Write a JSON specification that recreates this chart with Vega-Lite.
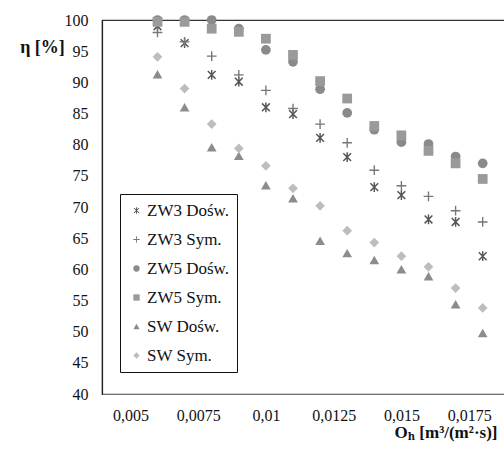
{
  "$schema": "https://vega.github.io/schema/vega-lite/v6.json",
  "autosize": "none",
  "padding": {"left": 102, "top": 20, "right": 0, "bottom": 62},
  "width": 403,
  "height": 374,
  "background": "white",
  "config": {
    "view": {"stroke": "#333", "strokeWidth": 1.2},
    "font": "Tinos, 'Times New Roman', Times, 'Noto Serif', FreeSerif, 'Liberation Serif', serif"
  },
  "data": {
    "values": [
      {"s": "ZW3 Dośw.", "q": 0.006, "eta": 99.0},
      {"s": "ZW3 Dośw.", "q": 0.007, "eta": 96.3},
      {"s": "ZW3 Dośw.", "q": 0.008, "eta": 91.2},
      {"s": "ZW3 Dośw.", "q": 0.009, "eta": 90.1},
      {"s": "ZW3 Dośw.", "q": 0.010, "eta": 86.0},
      {"s": "ZW3 Dośw.", "q": 0.011, "eta": 84.9},
      {"s": "ZW3 Dośw.", "q": 0.012, "eta": 81.1},
      {"s": "ZW3 Dośw.", "q": 0.013, "eta": 78.0},
      {"s": "ZW3 Dośw.", "q": 0.014, "eta": 73.2},
      {"s": "ZW3 Dośw.", "q": 0.015, "eta": 71.9},
      {"s": "ZW3 Dośw.", "q": 0.016, "eta": 68.0},
      {"s": "ZW3 Dośw.", "q": 0.017, "eta": 67.6},
      {"s": "ZW3 Dośw.", "q": 0.018, "eta": 62.1},
      {"s": "ZW3 Sym.", "q": 0.006, "eta": 98.0},
      {"s": "ZW3 Sym.", "q": 0.007, "eta": 96.5},
      {"s": "ZW3 Sym.", "q": 0.008, "eta": 94.2},
      {"s": "ZW3 Sym.", "q": 0.009, "eta": 91.2},
      {"s": "ZW3 Sym.", "q": 0.010, "eta": 88.7},
      {"s": "ZW3 Sym.", "q": 0.011, "eta": 85.8},
      {"s": "ZW3 Sym.", "q": 0.012, "eta": 83.3},
      {"s": "ZW3 Sym.", "q": 0.013, "eta": 80.3},
      {"s": "ZW3 Sym.", "q": 0.014, "eta": 75.9},
      {"s": "ZW3 Sym.", "q": 0.015, "eta": 73.4},
      {"s": "ZW3 Sym.", "q": 0.016, "eta": 71.7},
      {"s": "ZW3 Sym.", "q": 0.017, "eta": 69.4},
      {"s": "ZW3 Sym.", "q": 0.018, "eta": 67.6},
      {"s": "ZW5 Dośw.", "q": 0.006, "eta": 100.0},
      {"s": "ZW5 Dośw.", "q": 0.007, "eta": 100.0},
      {"s": "ZW5 Dośw.", "q": 0.008, "eta": 100.0},
      {"s": "ZW5 Dośw.", "q": 0.009, "eta": 98.6},
      {"s": "ZW5 Dośw.", "q": 0.010, "eta": 95.2},
      {"s": "ZW5 Dośw.", "q": 0.011, "eta": 93.3},
      {"s": "ZW5 Dośw.", "q": 0.012, "eta": 88.9},
      {"s": "ZW5 Dośw.", "q": 0.013, "eta": 85.1},
      {"s": "ZW5 Dośw.", "q": 0.014, "eta": 82.4},
      {"s": "ZW5 Dośw.", "q": 0.015, "eta": 80.4},
      {"s": "ZW5 Dośw.", "q": 0.016, "eta": 80.1},
      {"s": "ZW5 Dośw.", "q": 0.017, "eta": 78.1},
      {"s": "ZW5 Dośw.", "q": 0.018, "eta": 77.0},
      {"s": "ZW5 Sym.", "q": 0.006, "eta": 99.7},
      {"s": "ZW5 Sym.", "q": 0.007, "eta": 99.7},
      {"s": "ZW5 Sym.", "q": 0.008, "eta": 98.6},
      {"s": "ZW5 Sym.", "q": 0.009, "eta": 98.1},
      {"s": "ZW5 Sym.", "q": 0.010, "eta": 97.0},
      {"s": "ZW5 Sym.", "q": 0.011, "eta": 94.4},
      {"s": "ZW5 Sym.", "q": 0.012, "eta": 90.2},
      {"s": "ZW5 Sym.", "q": 0.013, "eta": 87.4},
      {"s": "ZW5 Sym.", "q": 0.014, "eta": 83.0},
      {"s": "ZW5 Sym.", "q": 0.015, "eta": 81.5},
      {"s": "ZW5 Sym.", "q": 0.016, "eta": 79.0},
      {"s": "ZW5 Sym.", "q": 0.017, "eta": 77.0},
      {"s": "ZW5 Sym.", "q": 0.018, "eta": 74.5},
      {"s": "SW Dośw.", "q": 0.006, "eta": 91.3},
      {"s": "SW Dośw.", "q": 0.007, "eta": 86.0},
      {"s": "SW Dośw.", "q": 0.008, "eta": 79.6},
      {"s": "SW Dośw.", "q": 0.009, "eta": 78.2},
      {"s": "SW Dośw.", "q": 0.010, "eta": 73.5},
      {"s": "SW Dośw.", "q": 0.011, "eta": 71.4},
      {"s": "SW Dośw.", "q": 0.012, "eta": 64.6},
      {"s": "SW Dośw.", "q": 0.013, "eta": 62.6},
      {"s": "SW Dośw.", "q": 0.014, "eta": 61.5},
      {"s": "SW Dośw.", "q": 0.015, "eta": 60.0},
      {"s": "SW Dośw.", "q": 0.016, "eta": 58.9},
      {"s": "SW Dośw.", "q": 0.017, "eta": 54.4},
      {"s": "SW Dośw.", "q": 0.018, "eta": 49.8},
      {"s": "SW Sym.", "q": 0.006, "eta": 94.1},
      {"s": "SW Sym.", "q": 0.007, "eta": 89.0},
      {"s": "SW Sym.", "q": 0.008, "eta": 83.3},
      {"s": "SW Sym.", "q": 0.009, "eta": 79.4},
      {"s": "SW Sym.", "q": 0.010, "eta": 76.6},
      {"s": "SW Sym.", "q": 0.011, "eta": 73.0},
      {"s": "SW Sym.", "q": 0.012, "eta": 70.2},
      {"s": "SW Sym.", "q": 0.013, "eta": 66.2},
      {"s": "SW Sym.", "q": 0.014, "eta": 64.3},
      {"s": "SW Sym.", "q": 0.015, "eta": 62.1},
      {"s": "SW Sym.", "q": 0.016, "eta": 60.4},
      {"s": "SW Sym.", "q": 0.017, "eta": 57.0},
      {"s": "SW Sym.", "q": 0.018, "eta": 53.8}
    ]
  },
  "mark": {"type": "point", "filled": true, "opacity": 1, "size": 95, "strokeWidth": 0, "clip": false},
  "encoding": {
    "x": {
      "field": "q", "type": "quantitative",
      "scale": {"domain": [0.003952, 0.018823], "nice": false, "zero": false},
      "axis": {
        "values": [0.005, 0.0075, 0.01, 0.0125, 0.015, 0.0175],
        "labelExpr": "replace(format(datum.value, '.4~f'), '.', ',')",
        "labelFontSize": 16, "labelColor": "#111",
        "labelPadding": 13, "ticks": false, "grid": false,
        "domainColor": "#777", "domainWidth": 1.2,
        "title": "Oₕ [m³/(m²·s)]",
        "titleFontSize": 17, "titleFontWeight": "bold", "titleColor": "#111",
        "titleAlign": "right", "titleAnchor": "end", "titleX": 395, "titleY": 43, "titleBaseline": "alphabetic"
      }
    },
    "y": {
      "field": "eta", "type": "quantitative",
      "scale": {"domain": [40, 100], "nice": false, "zero": false},
      "axis": {
        "values": [40, 45, 50, 55, 60, 65, 70, 75, 80, 85, 90, 95, 100],
        "labelFontSize": 16, "labelColor": "#111",
        "labelPadding": 14, "ticks": false, "grid": false,
        "domainColor": "#222", "domainWidth": 1.2,
        "title": "η [%]",
        "titleFontSize": 18, "titleFontWeight": "bold", "titleColor": "#111",
        "titleAngle": 0, "titleAlign": "center", "titleBaseline": "middle", "titleX": -60, "titleY": 27
      }
    },
    "shape": {
      "field": "s", "type": "nominal",
      "scale": {
        "domain": ["ZW3 Dośw.", "ZW3 Sym.", "ZW5 Dośw.", "ZW5 Sym.", "SW Dośw.", "SW Sym."],
        "range": [
          "M-0.15,-1H0.15V1H-0.15ZM-0.694,-0.906L0.906,0.694L0.694,0.906L-0.906,-0.694ZM-0.906,0.694L0.694,-0.906L0.906,-0.694L-0.694,0.906Z",
          "M-0.14,-1H0.14V-0.14H1V0.14H0.14V1H-0.14V0.14H-1V-0.14H-0.14Z",
          "circle", "square", "triangle-up", "diamond"
        ]
      },
      "legend": {
        "title": null, "orient": "none", "legendX": 18, "legendY": 174,
        "strokeColor": "#111", "fillColor": "white", "padding": 8, "rowPadding": 11,
        "labelFontSize": 17, "labelColor": "#111", "labelOffset": 2,
        "symbolSize": 40, "symbolStrokeWidth": 0
      }
    },
    "color": {
      "field": "s", "type": "nominal",
      "scale": {
        "domain": ["ZW3 Dośw.", "ZW3 Sym.", "ZW5 Dośw.", "ZW5 Sym.", "SW Dośw.", "SW Sym."],
        "range": ["#555555", "#777777", "#8a8a8a", "#9a9a9a", "#8c8c8c", "#bdbdbd"]
      },
      "legend": {
        "title": null, "orient": "none", "legendX": 18, "legendY": 174,
        "strokeColor": "#111", "fillColor": "white", "padding": 8, "rowPadding": 11,
        "labelFontSize": 17, "labelColor": "#111", "labelOffset": 2,
        "symbolSize": 40, "symbolStrokeWidth": 0
      }
    }
  }
}
